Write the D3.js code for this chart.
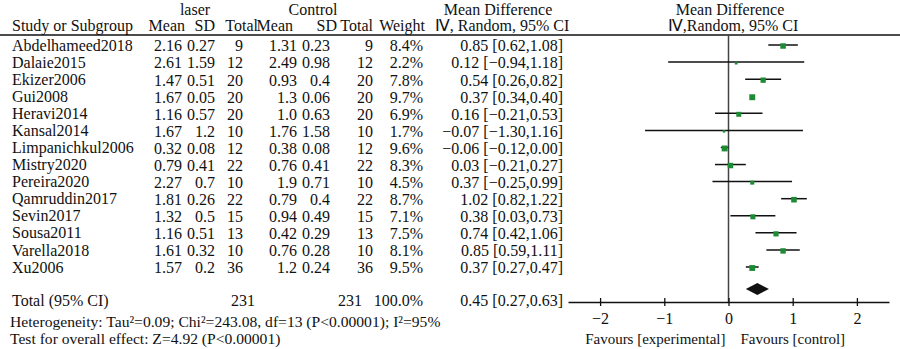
<!DOCTYPE html>
<html>
<head>
<meta charset="utf-8">
<script src="https://cdn.jsdelivr.net/npm/d3@7"></script>
<style>
  body { margin: 0; background: #fff; }
  svg text { font-family: 'Liberation Serif', 'Times New Roman', serif; fill: #111; }
</style>
</head>
<body>
<div id="chart"></div>
<script>
// study rows
var studies = ['Abdelhameed2018', 'Dalaie2015', 'Ekizer2006', 'Gui2008', 'Heravi2014', 'Kansal2014',
  'Limpanichkul2006', 'Mistry2020', 'Pereira2020', 'Qamruddin2017', 'Sevin2017', 'Sousa2011',
  'Varella2018', 'Xu2006'];
var laserMean = ['2.16', '2.61', '1.47', '1.67', '1.16', '1.67', '0.32', '0.79', '2.27', '1.81', '1.32', '1.16', '1.61', '1.57'];
var laserSD = ['0.27', '1.59', '0.51', '0.05', '0.57', '1.2', '0.08', '0.41', '0.7', '0.26', '0.5', '0.51', '0.32', '0.2'];
var laserTotal = [9, 12, 20, 20, 20, 10, 12, 22, 10, 22, 15, 13, 10, 36];
var ctrlMean = ['1.31', '2.49', '0.93', '1.3', '1.0', '1.76', '0.38', '0.76', '1.9', '0.79', '0.94', '0.42', '0.76', '1.2'];
var ctrlSD = ['0.23', '0.98', '0.4', '0.06', '0.63', '1.58', '0.08', '0.41', '0.71', '0.4', '0.49', '0.29', '0.28', '0.24'];
var ctrlTotal = [9, 12, 20, 20, 20, 10, 12, 22, 10, 22, 15, 13, 10, 36];
var weights = [8.4, 2.2, 7.8, 9.7, 6.9, 1.7, 9.6, 8.3, 4.5, 8.7, 7.1, 7.5, 8.1, 9.5];
var md = [0.85, 0.12, 0.54, 0.37, 0.16, -0.07, -0.06, 0.03, 0.37, 1.02, 0.38, 0.74, 0.85, 0.37];
var ciLow = [0.62, -0.94, 0.26, 0.34, -0.21, -1.30, -0.12, -0.21, -0.25, 0.82, 0.03, 0.42, 0.59, 0.27];
var ciHigh = [1.08, 1.18, 0.82, 0.40, 0.53, 1.16, 0.00, 0.27, 0.99, 1.22, 0.73, 1.06, 1.11, 0.47];

// pooled
var total = { laserN: 231, ctrlN: 231, weight: '100.0%', md: 0.45, lo: 0.27, hi: 0.63 };
var axisTicks = [-2, -1, 0, 1, 2];
var heterogeneity = 'Heterogeneity: Tau²=0.09; Chi²=243.08, df=13 (P<0.00001); I²=95%';
var overall = 'Test for overall effect: Z=4.92 (P<0.00001)';

var w = 900, h = 349;
var fmt = d3.format('.2f');
function num(v) { return fmt(v).replace('-', '−'); }

var svg = d3.select('#chart').append('svg').attr('width', w).attr('height', h);

var yScale = d3.scaleLinear().domain([0, studies.length - 1]).range([45, 267]);
var xScale = d3.scaleLinear().domain([-2.5, 2.5]).range([568, 889]);
var sizeScale = d3.scaleSqrt().domain([0, 10]).range([0, 6]);

var axisY = 302;

// headers
function label(x, y, txt, anchor, size) {
  return svg.append('text').attr('x', x).attr('y', y).attr('text-anchor', anchor || 'start')
    .attr('font-size', (size || 16) + 'px').text(txt);
}
label(195, 15, 'laser', 'middle');
label(313, 15, 'Control', 'middle');
label(498, 15, 'Mean Difference', 'middle');
label(730, 15, 'Mean Difference', 'middle');
label(12, 31, 'Study or Subgroup');
label(185, 31, 'Mean', 'end');
label(215, 31, 'SD', 'end');
label(258, 31, 'Total', 'end');
label(293, 31, 'Mean', 'end');
label(337, 31, 'SD', 'end');
label(373, 31, 'Total', 'end');
label(425, 31, 'Weight', 'end');
label(502, 31, 'Ⅳ, Random, 95% CI', 'middle');
label(733, 31, 'Ⅳ,Random, 95% CI', 'middle');

svg.append('line').attr('x1', 0).attr('x2', w).attr('y1', 35).attr('y2', 35)
  .attr('stroke', '#111').attr('stroke-width', 1.3);

// table columns
var cols = [
  { x: 182, vals: laserMean },
  { x: 215, vals: laserSD },
  { x: 243, vals: laserTotal },
  { x: 297, vals: ctrlMean },
  { x: 330, vals: ctrlSD },
  { x: 373, vals: ctrlTotal },
  { x: 423, vals: weights.map(function(d) { return d.toFixed(1) + '%'; }) },
  { x: 563, vals: md.map(function(d, i) { return num(d) + ' [' + num(ciLow[i]) + ',' + num(ciHigh[i]) + ']'; }) }
];

svg.selectAll('text.study').data(studies).enter().append('text')
  .attr('class', 'study')
  .attr('x', 12)
  .attr('y', function(d, i) { return yScale(i); })
  .attr('dy', '0.35em')
  .attr('font-size', '16px')
  .text(function(d) { return d; });

cols.forEach(function(c, k) {
  svg.selectAll('text.col' + k).data(c.vals).enter().append('text')
    .attr('class', 'col' + k)
    .attr('x', c.x)
    .attr('y', function(d, i) { return yScale(i); })
    .attr('dy', '0.4em')
    .attr('text-anchor', 'end')
    .attr('font-size', '16px')
    .text(function(d) { return d; });
});

// total row
var totY = 306;
label(12, totY, 'Total (95% CI)');
label(255, totY, total.laserN, 'end');
label(362, totY, total.ctrlN, 'end');
label(423, totY, total.weight, 'end');
label(563, totY, num(total.md) + ' [' + num(total.lo) + ',' + num(total.hi) + ']', 'end');
label(10, 327, heterogeneity, 'start', 15.6);
label(10, 344, overall, 'start', 15.6);

// zero line
svg.append('line')
  .attr('x1', xScale(0)).attr('x2', xScale(0))
  .attr('y1', 35).attr('y2', axisY)
  .attr('stroke', '#444').attr('stroke-width', 1.5);

// CI whiskers
svg.selectAll('line.ci').data(studies).enter().append('line')
  .attr('class', 'ci')
  .attr('x1', function(d, i) { return xScale(ciLow[i]); })
  .attr('x2', function(d, i) { return xScale(ciHigh[i]); })
  .attr('y1', function(d, i) { return yScale(i); })
  .attr('y2', function(d, i) { return yScale(i); })
  .attr('stroke', '#111')
  .attr('stroke-width', 1.5);

// point estimates
svg.selectAll('rect.pt').data(studies).enter().append('rect')
  .attr('class', 'pt')
  .attr('x', function(d, i) { return xScale(md[i]) - sizeScale(weights[i]) / 2; })
  .attr('y', function(d, i) { return yScale(i) - sizeScale(weights[i]) / 2 + 1; })
  .attr('width', function(d, i) { return sizeScale(weights[i]); })
  .attr('height', function(d, i) { return sizeScale(weights[i]); })
  .attr('fill', '#1d8a34');

// pooled diamond
var dY = 289;
svg.append('path')
  .attr('d', 'M' + xScale(total.lo) + ',' + dY +
    'L' + xScale(total.md) + ',' + (dY - 6) +
    'L' + xScale(total.hi) + ',' + dY +
    'L' + xScale(total.md) + ',' + (dY + 6) + 'Z')
  .attr('fill', '#111');

// axis
var xAxis = d3.axisBottom(xScale)
  .tickValues(axisTicks)
  .tickSizeOuter(0)
  .tickFormat(function(n) { return d3.format('d')(n).replace('-', '−'); });

var ax = svg.append('g')
  .attr('transform', 'translate(0,' + axisY + ')')
  .call(xAxis);
ax.select('.domain').attr('stroke', '#111').attr('stroke-width', 1.5);
ax.selectAll('.tick line').attr('y1', -4).attr('y2', 4).attr('stroke', '#111').attr('stroke-width', 1.3);
ax.selectAll('.tick text')
  .attr('y', 22).attr('dy', 0)
  .attr('font-size', '16px')
  .attr('fill', '#111');

label(xScale(0) - 3, 344, 'Favours [experimental]', 'end', 15);
label(xScale(0) + 12, 344, 'Favours [control]', 'start', 15);
</script>
</body>
</html>
